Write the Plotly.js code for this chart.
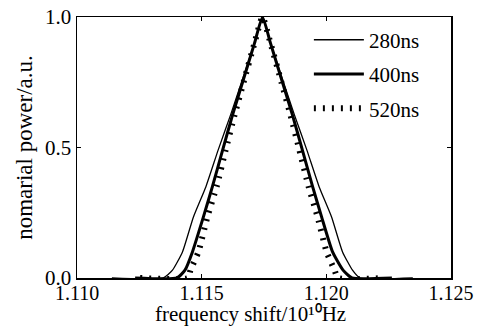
<!DOCTYPE html>
<html><head><meta charset="utf-8">
<script src="https://cdn.plot.ly/plotly-3.0.1.min.js"></script>
<style>body{margin:0;background:#fff}#c{width:481px;height:326px}</style>
</head><body><div id="c"></div>
<script>
const seriesNames = ["280ns", "400ns", "520ns"];
const levels = [0,0,0.03,0.10,0.234,0.35,0.49,0.625,0.75,0.90,1.0,0.90,0.75,0.625,0.49,0.35,0.234,0.10,0.03,0,0];
const x280 = [1.11140,1.11345,1.11383,1.11423,1.11467,1.11517,1.11566,1.11616,1.11660,1.11712,1.11744,1.11776,1.11828,1.11872,1.11922,1.11971,1.12021,1.12065,1.12105,1.12135,1.12347];
const y280 = levels.slice();
const x400 = [1.11233,1.11401,1.11433,1.11463,1.11507,1.11543,1.11584,1.11624,1.11664,1.11712,1.11744,1.11776,1.11824,1.11864,1.11904,1.11945,1.11981,1.12025,1.12067,1.12103,1.12263];
const y400 = levels.slice();
const x520 = [1.11253,1.11445,1.11455,1.11487,1.11523,1.11560,1.11596,1.11632,1.11668,1.11712,1.11744,1.11776,1.11820,1.11856,1.11892,1.11929,1.11965,1.12001,1.12033,1.12047,1.12235];
const y520 = levels.slice();
const xTicks = [1.110, 1.115, 1.120, 1.125];
const yTicks = [0, 0.5, 1.0];
const xTitle = "frequency shift/10\u00b9\u2070Hz";
const yTitle = "nomarial power/a.u.";

const font = "Liberation Serif, Times New Roman, serif";
const traces = [
  {x: x280, y: y280, name: seriesNames[0], legendgroup: "a", mode: "lines", line: {color: "#000", width: 1.3, shape: "spline", smoothing: 0.5}},
  {x: x400, y: y400, name: seriesNames[1], legendgroup: "b", mode: "lines", line: {color: "#000", width: 3, shape: "spline", smoothing: 0.5}},
  {x: x520, y: y520, name: seriesNames[2], legendgroup: "c", mode: "lines", line: {color: "#000", width: 6, dash: "2px,7px", shape: "spline", smoothing: 0.5}}
];
const axisCommon = {showline: true, linecolor: "#000", linewidth: 1.5, mirror: "ticks", ticks: "inside", ticklen: 4, tickcolor: "#000", showgrid: false, zeroline: false};
const layout = {
  width: 481, height: 326,
  margin: {l: 77, r: 30, t: 17, b: 48},
  paper_bgcolor: "#fff", plot_bgcolor: "#fff",
  font: {family: font, color: "#000"},
  showlegend: true,
  legend: {x: 0.62, y: 0.99, xanchor: "left", yanchor: "top", bgcolor: "rgba(0,0,0,0)", font: {family: font, size: 21}, itemwidth: 50, traceorder: "grouped", tracegroupgap: 4},
  xaxis: Object.assign({}, axisCommon, {range: [1.110, 1.125], tickvals: xTicks, ticktext: xTicks.map(v => v.toFixed(3)), tickfont: {family: font, size: 20}, ticklabelstandoff: -4}),
  yaxis: Object.assign({}, axisCommon, {range: [0, 1], tickvals: yTicks, ticktext: yTicks.map(v => v.toFixed(1)), tickfont: {family: font, size: 21},
    title: {text: yTitle, font: {family: font, size: 23}, standoff: 6}}),
  annotations: [
    {text: xTitle, xref: "paper", yref: "paper", x: (250 - 77) / 374, y: -(327 - 278) / 261, xanchor: "center", yanchor: "bottom", showarrow: false, font: {family: font, size: 21}, borderpad: 0}
  ]
};
Plotly.newPlot("c", traces, layout, {displayModeBar: false, staticPlot: true});
</script></body></html>
